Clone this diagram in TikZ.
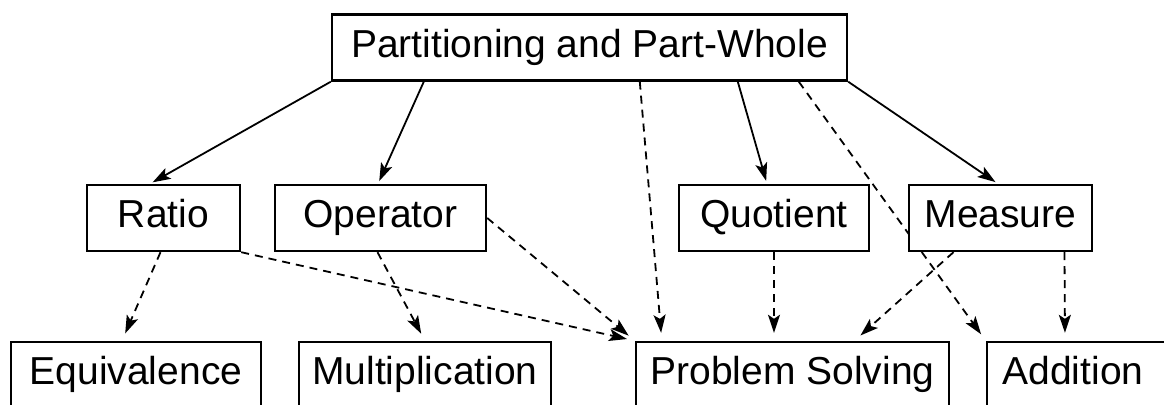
\documentclass[tikz,border=0pt]{standalone}
\usepackage{fontspec}
\setmainfont{Liberation Sans}
\usetikzlibrary{shapes,arrows.meta,positioning,calc,backgrounds}

\begin{document}
\begin{tikzpicture}[x=0.5pt,y=-0.5pt]
        % Define styles
        \tikzstyle{block} = [rectangle, draw, fill=white, line width=1.2pt,
            inner sep=0pt, minimum height=33pt, text height=14pt, text depth=4pt,
            font=\fontsize{19.5}{23}\selectfont]
        \tikzstyle{arrow} = [line width=0.9pt,
            -{Stealth[length=9pt,width=6pt,inset=2pt]}, shorten >=1.5pt]
        \tikzstyle{dasharrow} = [arrow, dash pattern=on 4pt off 3pt, shorten >=4pt]

        \useasboundingbox (0,0) rectangle (1164,405);
        \clip (0,0) rectangle (1164,405);

        % Nodes
        \node [block, minimum width=257.5pt] (part) at (589.5,47.5) {Partitioning and Part-Whole};
        \node [block, minimum width=76.5pt] (ratio) at (163.5,218) {Ratio};
        \node [block, minimum width=105.5pt] (operator) at (380.5,218) {Operator};
        \node [block, minimum width=95pt] (quotient) at (774,218) {Quotient};
        \node [block, minimum width=91.5pt] (measure) at (1000.5,218) {Measure};
        \node [block, minimum width=125pt] (equiv) at (136,375) {Equivalence};
        \node [block, minimum width=126pt] (mult) at (425,375) {Multiplication};
        \node [block, minimum width=156.5pt] (ps) at (792.5,375) {Problem Solving};
        \node [block, minimum width=94pt] (addition) at (1081,375) {\hspace*{-8pt}Addition};

        % Arrows
        \begin{pgfonlayer}{background}
        \draw [arrow] (part.south west) -- ($(ratio.north)+(-13.5,0)$);
        \draw [arrow] ($(part.south west)+(93,0)$) -- ($(operator.north)+(-2.5,0)$);
        \draw [arrow] ($(part.south west)+(407,0)$) -- ($(quotient.north)+(-7,0)$);
        \draw [arrow] (part.south east) -- ($(measure.north)+(-2.5,0)$);
        \draw [dasharrow] ($(part.south west)+(309,0)$) -- ($(ps.north west)+(27,0)$);
        \draw [dasharrow] ($(part.south west)+(468,0)$) -- (addition.north west);
        \draw [dasharrow] ($(ratio.south)+(-3,0)$) -- ($(equiv.north)+(-14,0)$);
        \draw [dasharrow] (ratio.south east) -- (ps.north west);
        \draw [dasharrow] (operator.east) -- (ps.north west);
        \draw [dasharrow] ($(operator.south)+(-3,0)$) -- (mult.north);
        \draw [dasharrow] (quotient.south) -- (quotient.south |- ps.north);
        \draw [dasharrow] ($(measure.south)+(-47,0)$) -- ($(ps.north)+(62,0)$);
        \draw [dasharrow] ($(measure.south)+(64,0)$) -- ($(addition.north)+(-16,0)$);
        \end{pgfonlayer}
    \end{tikzpicture}
\end{document}
